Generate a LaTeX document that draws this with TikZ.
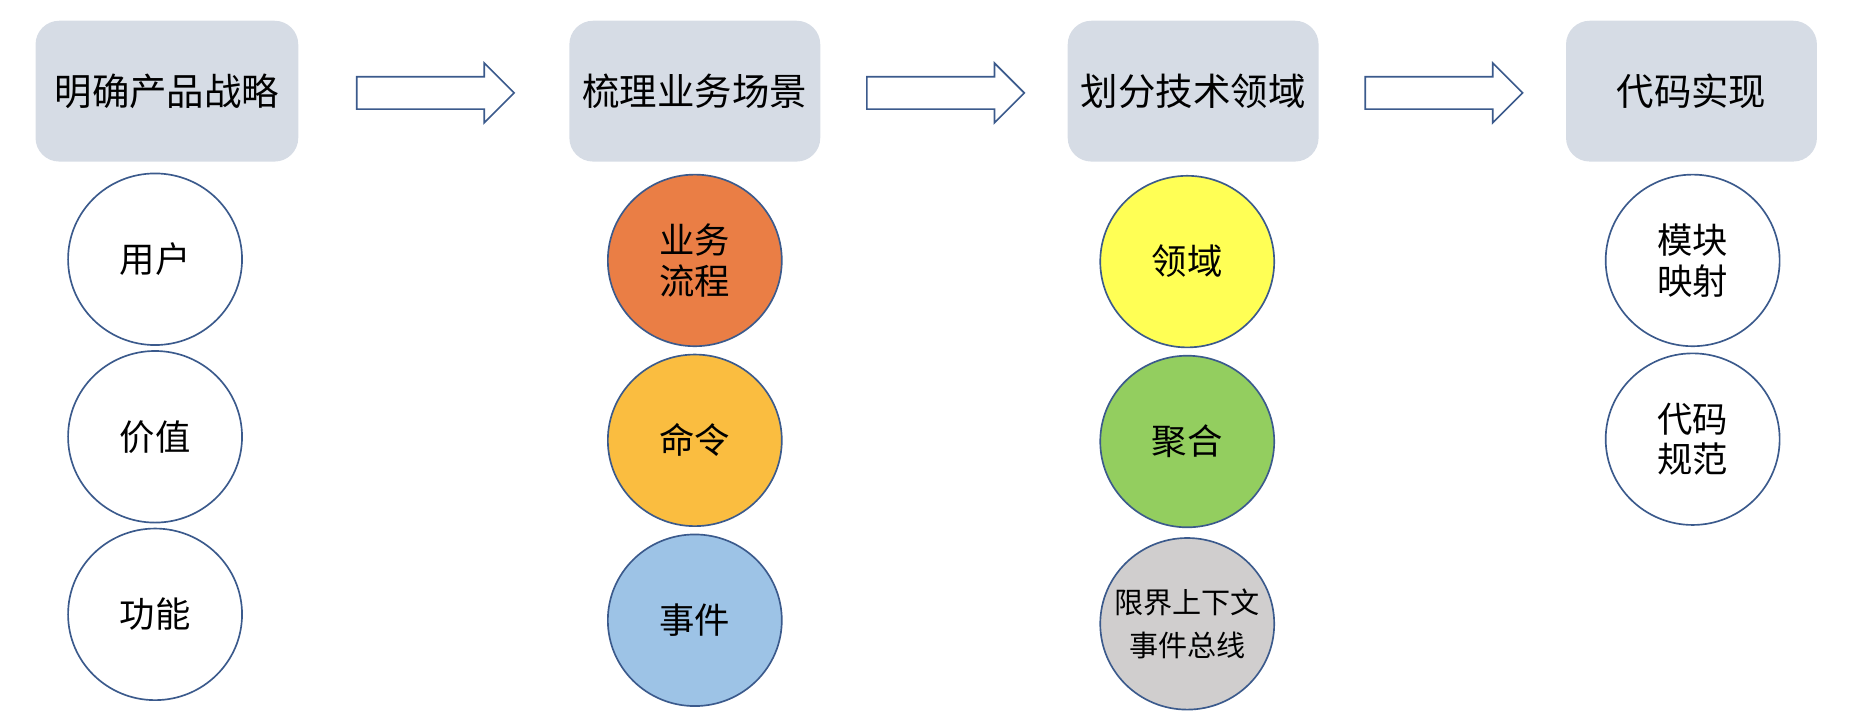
\documentclass[tikz,border=0pt]{standalone}
\usepackage{fontspec}
\setmainfont{Noto Sans CJK SC}
\usetikzlibrary{calc,shapes.geometric,shapes.arrows}

\definecolor{boxgray}{HTML}{D6DCE5}
\definecolor{rimblue}{HTML}{3B5A8C}
\definecolor{cOrange}{HTML}{EA7E45}
\definecolor{cAmber}{HTML}{FABD40}
\definecolor{cSky}{HTML}{9DC3E6}
\definecolor{cYellow}{HTML}{FFFF55}
\definecolor{cGreen}{HTML}{93CE5F}
\definecolor{cGray}{HTML}{D0CECE}

\begin{document}
\begin{tikzpicture}[x=0.02cm,y=-0.02cm,
	stage/.style={rectangle,rounded corners=0.4cm,fill=boxgray,minimum width=4.24cm,minimum height=2.38cm,font=\fontsize{18}{20}\selectfont},
	topic/.style={ellipse,draw=rimblue,line width=0.8pt,minimum width=2.94cm,minimum height=2.9cm,inner sep=0pt,align=center,font=\fontsize{17}{19.5}\selectfont},
	flow/.style={single arrow,draw=rimblue,fill=white,line width=0.8pt,minimum height=2.66cm,inner xsep=0pt,inner ysep=0.26cm,single arrow head extend=0.23cm}]
	\useasboundingbox (0,0) rectangle (1568,603);	%page size (in px of the reference)

	% the four stages
	\node[stage,minimum width=4.44cm] (st1) at (141,77) {明确产品战略};
	\node[stage] (st2) at (587,77) {梳理业务场景};
	\node[stage] (st3) at (1008,77) {划分技术领域};
	\node[stage] (st4) at (1429,77) {代码实现};

	% block arrows between stages
	\foreach \a/\b [count=\i] in {st1/st2,st2/st3,st3/st4}
		\path (\a.east) -- (\b.west) node[flow,midway,xshift=-0.11cm,yshift=-0.03cm] (flow\i) {};

	% items below each stage
	\foreach \n/\x/\y/\c/\t in {
		user/131/219/white/{用户},
		value/131/369/white/{价值},
		func/131/519/white/{功能},
		proc/587/220/cOrange/{业务\\流程},
		cmd/587/372/cAmber/{命令},
		evt/587/524/cSky/{事件},
		dom/1003/221/cYellow/{领域},
		agg/1003/373/cGreen/{聚合},
		map/1430/220/white/{模块\\映射},
		norm/1430/371/white/{代码\\规范}}
		\node[topic,fill=\c] (\n) at (\x,\y) {\t};
	\node[topic,fill=cGray,inner xsep=-0.22cm,font=\fontsize{14}{21}\selectfont] (ctx) at (1003,527) {限界上下文\\事件总线};	%smaller text, same size as the others
\end{tikzpicture}
\end{document}
